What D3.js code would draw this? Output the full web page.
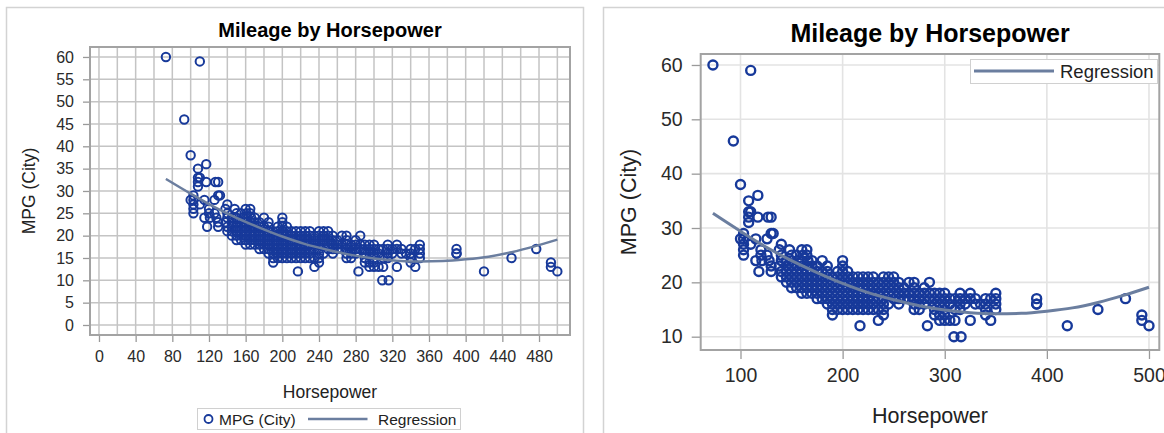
<!DOCTYPE html>
<html>
<head>
<meta charset="utf-8">
<script src="https://cdn.jsdelivr.net/npm/d3@7/dist/d3.min.js"></script>
<style>
  body { margin: 0; background: #fff; }
  svg { display: block; font-family: "Liberation Sans", Arial, sans-serif; }
</style>
</head>
<body>
<svg id="chart" width="1164" height="433"></svg>
<script>
const chartTitle = "Mileage by Horsepower";

// MPG (City) levels and the horsepower of every car plotted at that level
const mpgLevels = [60, 59, 46, 38, 36, 35, 33, 32, 31, 29, 28, 27, 26, 25, 24, 23, 22, 21, 20, 19, 18, 17, 16, 15, 14, 13, 12, 10];
const hpAtLevel = [
  [73],
  [110],
  [93],
  [100],
  [117],
  [108],
  [108, 110],
  [108, 117, 127, 130],
  [108],
  [103, 130, 132],
  [100, 103, 115, 126],
  [103, 110, 140],
  [103, 120, 138, 148, 160, 165],
  [103, 120, 126, 140, 150, 155, 161, 165],
  [115, 121, 128, 140, 145, 150, 157, 160, 166, 170, 180, 200],
  [130, 138, 145, 150, 155, 160, 165, 170, 175, 185, 200],
  [118, 130, 140, 145, 150, 155, 160, 165, 170, 175, 180, 185, 195, 200, 205],
  [140, 145, 150, 155, 160, 165, 170, 175, 180, 185, 190, 195, 200, 205, 210, 215, 220, 225, 230, 240, 245, 250],
  [145, 150, 155, 160, 165, 170, 175, 180, 185, 190, 195, 200, 205, 210, 215, 220, 225, 230, 235, 240, 245, 250, 255, 265, 270, 285],
  [150, 155, 160, 165, 170, 175, 180, 185, 190, 195, 200, 205, 210, 215, 220, 225, 230, 235, 240, 245, 250, 255, 260, 270, 280],
  [160, 165, 170, 175, 180, 185, 190, 195, 200, 205, 210, 215, 220, 225, 230, 235, 240, 245, 250, 255, 260, 265, 270, 275, 280, 285, 290, 295, 300, 315, 325, 350],
  [175, 180, 185, 190, 195, 200, 205, 210, 215, 220, 225, 230, 235, 240, 250, 255, 260, 265, 270, 275, 280, 285, 290, 295, 300, 305, 310, 315, 320, 325, 330, 340, 345, 350, 390, 477],
  [185, 190, 195, 200, 205, 210, 215, 220, 225, 230, 240, 245, 255, 270, 275, 280, 290, 295, 300, 305, 315, 320, 330, 335, 340, 350, 390, 390],
  [190, 195, 200, 205, 210, 215, 220, 225, 230, 235, 240, 270, 275, 290, 300, 310, 315, 340, 350, 450],
  [190, 240, 290, 295, 300, 340, 493],
  [235, 295, 300, 305, 310, 325, 345, 493],
  [217, 283, 420, 500],
  [309, 316]
];

// regression curve
const fitHp  = [73, 100, 125, 150, 175, 200, 225, 250, 275, 300, 325, 350, 375, 400, 425, 450, 475, 500];
const fitMpg = [32.7, 29.4, 26.5, 24.0, 21.8, 19.8, 18.1, 16.8, 15.7, 14.9, 14.4, 14.2, 14.3, 14.7, 15.3, 16.3, 17.6, 19.1];

// ticks and grid
const leftXTicks = [0, 40, 80, 120, 160, 200, 240, 280, 320, 360, 400, 440, 480];
const leftXGrid = [0, 20, 40, 60, 80, 100, 120, 140, 160, 180, 200, 220, 240, 260, 280, 300, 320, 340, 360, 380, 400, 420, 440, 460, 480, 500];
const leftYTicks = [0, 5, 10, 15, 20, 25, 30, 35, 40, 45, 50, 55, 60];
const rightXTicks = [100, 200, 300, 400, 500];
const rightYTicks = [10, 20, 30, 40, 50, 60];

const markerColor = "#17399a";
const fitColor = "#6b7e9f";

const cars = mpgLevels.flatMap((m, i) => hpAtLevel[i].map(h => ({ hp: h, mpg: m })));
const fit = fitHp.map((h, i) => ({ hp: h, mpg: fitMpg[i] }));

const svg = d3.select("#chart");

// panel frames
svg.append("rect")
  .attr("x", 6.5).attr("y", 7.5).attr("width", 577).attr("height", 440)
  .attr("fill", "none").attr("stroke", "#d3d3d3").attr("stroke-width", 1.5);
svg.append("rect")
  .attr("x", 603.5).attr("y", 7.5).attr("width", 600).attr("height", 440)
  .attr("fill", "none").attr("stroke", "#d3d3d3").attr("stroke-width", 1.5);

function drawPanel(p) {
  const x = d3.scaleLinear().domain(p.xDomain).range([p.left, p.right]);
  const y = d3.scaleLinear().domain(p.yDomain).range([p.bottom, p.top]);
  const g = svg.append("g");

  // grid
  g.append("g").selectAll("line").data(p.xGrid).join("line")
    .attr("x1", d => x(d)).attr("x2", d => x(d))
    .attr("y1", p.top).attr("y2", p.bottom)
    .attr("stroke", p.gridColor).attr("stroke-width", p.gridWidth);
  g.append("g").selectAll("line").data(p.yTicks).join("line")
    .attr("x1", p.left).attr("x2", p.right)
    .attr("y1", d => y(d)).attr("y2", d => y(d))
    .attr("stroke", p.gridColor).attr("stroke-width", p.gridWidth);

  // axes
  const xAxis = g.append("g")
    .attr("transform", `translate(0,${p.bottom})`)
    .call(d3.axisBottom(x).tickValues(p.xTicks).tickSize(p.tickLen).tickSizeOuter(0).tickPadding(p.tickPad));
  const yAxis = g.append("g")
    .attr("transform", `translate(${p.left},0)`)
    .call(d3.axisLeft(y).tickValues(p.yTicks).tickSize(p.tickLen).tickSizeOuter(0).tickPadding(p.tickPad));
  [xAxis, yAxis].forEach(a => {
    a.select(".domain").remove();
    a.selectAll(".tick line").attr("stroke", "#9a9a9a").attr("stroke-width", 1.3);
    a.selectAll(".tick text")
      .attr("fill", "#2a2a2a")
      .style("font-size", p.tickFont + "px")
      .style("font-family", "Liberation Sans, Arial, sans-serif");
  });

  // plot frame
  g.append("rect")
    .attr("x", p.left).attr("y", p.top)
    .attr("width", p.right - p.left).attr("height", p.bottom - p.top)
    .attr("fill", "none").attr("stroke", "#a3a3a3").attr("stroke-width", 2);

  // points
  g.append("g").selectAll("circle").data(cars).join("circle")
    .attr("cx", d => x(d.hp)).attr("cy", d => y(d.mpg))
    .attr("r", p.markerR)
    .attr("fill", "none").attr("stroke", markerColor).attr("stroke-width", p.markerW);

  // regression curve
  g.append("path").datum(fit)
    .attr("fill", "none").attr("stroke", fitColor).attr("stroke-width", p.fitW)
    .attr("d", d3.line().x(d => x(d.hp)).y(d => y(d.mpg)).curve(d3.curveMonotoneX));

  // title and axis labels
  g.append("text")
    .attr("x", (p.left + p.right) / 2).attr("y", p.titleY)
    .attr("text-anchor", "middle")
    .style("font-size", p.titleFont + "px").style("font-weight", "bold")
    .text(chartTitle);
  g.append("text")
    .attr("x", (p.left + p.right) / 2).attr("y", p.xLabelY)
    .attr("text-anchor", "middle").attr("fill", "#222")
    .style("font-size", p.labelFont + "px")
    .text("Horsepower");
  g.append("text")
    .attr("transform", `translate(${p.yLabelX},${(p.top + p.bottom) / 2}) rotate(-90)`)
    .attr("text-anchor", "middle").attr("fill", "#222")
    .style("font-size", p.labelFont + "px")
    .text("MPG (City)");
  return g;
}

drawPanel({
  left: 90, right: 570, top: 47, bottom: 335,
  xDomain: [-9.8, 513.8], yDomain: [-2.24, 62.23],
  xTicks: leftXTicks, xGrid: leftXGrid, yTicks: leftYTicks,
  gridColor: "#c4c4c4", gridWidth: 1.5,
  tickLen: 7, tickPad: 9, tickFont: 16,
  markerR: 4.2, markerW: 2, fitW: 2.5,
  titleY: 37, titleFont: 20, xLabelY: 398, yLabelX: 35, labelFont: 17.5
});

const right = drawPanel({
  left: 700.7, right: 1159.3, top: 54, bottom: 350,
  xDomain: [61.03, 510.1], yDomain: [7.55, 62.02],
  xTicks: rightXTicks, xGrid: rightXTicks, yTicks: rightYTicks,
  gridColor: "#e3e3e3", gridWidth: 1.6,
  tickLen: 9, tickPad: 9, tickFont: 19.5,
  markerR: 4.5, markerW: 2.4, fitW: 3,
  titleY: 42, titleFont: 25, xLabelY: 423, yLabelX: 636, labelFont: 21.5
});

// legend of the left panel, below the axis label
const legL = svg.append("g");
legL.append("rect")
  .attr("x", 197.5).attr("y", 408.5).attr("width", 263).attr("height", 21)
  .attr("fill", "none").attr("stroke", "#d0d0d0");
legL.append("circle")
  .attr("cx", 208.5).attr("cy", 419).attr("r", 4)
  .attr("fill", "none").attr("stroke", markerColor).attr("stroke-width", 1.8);
legL.append("text")
  .attr("x", 219).attr("y", 424.5).style("font-size", "15.5px").attr("fill", "#222")
  .text("MPG (City)");
legL.append("line")
  .attr("x1", 308).attr("x2", 367.5).attr("y1", 419).attr("y2", 419)
  .attr("stroke", fitColor).attr("stroke-width", 2.5);
legL.append("text")
  .attr("x", 378).attr("y", 424.5).style("font-size", "15.5px").attr("fill", "#222")
  .text("Regression");

// legend inside the right panel
const legR = right.append("g");
legR.append("rect")
  .attr("x", 970.5).attr("y", 59.5).attr("width", 187).attr("height", 24)
  .attr("fill", "#fff").attr("stroke", "#d0d0d0");
legR.append("line")
  .attr("x1", 974).attr("x2", 1054).attr("y1", 71).attr("y2", 71)
  .attr("stroke", fitColor).attr("stroke-width", 3);
legR.append("text")
  .attr("x", 1060).attr("y", 77.5).style("font-size", "18.5px").attr("fill", "#222")
  .text("Regression");
</script>
</body>
</html>
